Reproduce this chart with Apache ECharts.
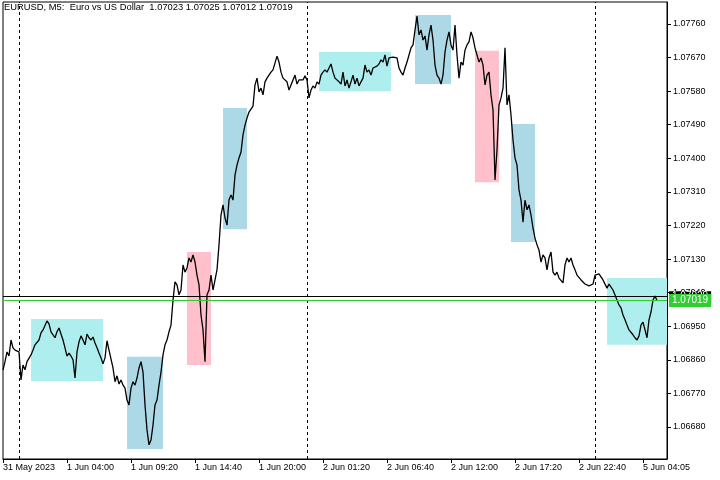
<!DOCTYPE html>
<html>
<head>
<meta charset="utf-8">
<script src="https://cdn.jsdelivr.net/npm/echarts@6/dist/echarts.min.js"></script>
<style>
html,body{margin:0;padding:0;background:#fff;}
#chart{width:720px;height:480px;}
</style>
</head>
<body>
<div id="chart"></div>
<script>
// ---- data ----
const titleText = 'EURUSD, M5:  Euro vs US Dollar  1.07023 1.07025 1.07012 1.07019';
const tickLabels = ['31 May 2023','1 Jun 04:00','1 Jun 09:20','1 Jun 14:40','1 Jun 20:00','2 Jun 01:20','2 Jun 06:40','2 Jun 12:00','2 Jun 17:20','2 Jun 22:40','5 Jun 04:05'];
const priceTicks = [1.0668,1.0677,1.0686,1.0695,1.0704,1.0713,1.0722,1.0731,1.0740,1.0749,1.0758,1.0767,1.0776];
// close prices, one per 10 minutes (2 M5 bars)
const closePrices = [
1.06833,1.06855,1.06881,1.06870,1.06913,1.06892,1.06886,1.06881,1.06881,1.06806,
1.06846,1.06833,1.06855,1.06860,1.06873,1.06886,1.06900,1.06897,1.06913,1.06932,
1.06940,1.06945,1.06964,1.06956,1.06935,1.06932,1.06919,1.06935,1.06945,1.06940,
1.06913,1.06892,1.06870,1.06878,1.06870,1.06860,1.06811,1.06881,1.06908,1.06924,
1.06913,1.06900,1.06929,1.06919,1.06913,1.06921,1.06905,1.06892,1.06878,1.06865,
1.06849,1.06865,1.06911,1.06886,1.06881,1.06838,1.06801,1.06817,1.06795,1.06806,
1.06792,1.06784,1.06752,1.06739,1.06784,1.06801,1.06792,1.06811,1.06838,1.06855,
1.06827,1.06739,1.06672,1.06632,1.06645,1.06685,1.06739,1.06752,1.06792,1.06827,
1.06873,1.06900,1.06913,1.06935,1.06953,1.07020,1.07069,1.07061,1.07034,1.07047,
1.07114,1.07095,1.07106,1.07133,1.07122,1.07141,1.07122,1.07087,1.07061,1.06980,
1.06940,1.06855,1.07034,1.07047,1.07087,1.07047,1.07052,1.07101,1.07168,1.07248,
1.07275,1.07240,1.07221,1.07288,1.07302,1.07288,1.07355,1.07382,1.07401,1.07417,
1.07463,1.07489,1.07508,1.07524,1.07519,1.07540,1.07597,1.07615,1.07578,1.07588,
1.07570,1.07605,1.07615,1.07623,1.07631,1.07637,1.07642,1.07674,1.07658,1.07631,
1.07615,1.07610,1.07605,1.07583,1.07578,1.07610,1.07623,1.07599,1.07610,1.07615,
1.07610,1.07621,1.07610,1.07562,1.07583,1.07594,1.07588,1.07605,1.07599,1.07623,
1.07631,1.07637,1.07631,1.07642,1.07653,1.07631,1.07615,1.07610,1.07605,1.07599,
1.07631,1.07594,1.07610,1.07588,1.07605,1.07623,1.07599,1.07615,1.07594,1.07605,
1.07615,1.07650,1.07631,1.07637,1.07623,1.07642,1.07637,1.07647,1.07653,1.07664,
1.07658,1.07677,1.07647,1.07669,1.07674,1.07671,1.07674,1.07669,1.07642,1.07631,
1.07623,1.07642,1.07658,1.07677,1.07696,1.07704,1.07744,1.07781,1.07731,1.07744,
1.07717,1.07728,1.07690,1.07731,1.07757,1.07717,1.07650,1.07623,1.07615,1.07599,
1.07623,1.07685,1.07717,1.07739,1.07704,1.07690,1.07757,1.07677,1.07615,1.07658,
1.07650,1.07690,1.07704,1.07712,1.07739,1.07723,1.07696,1.07677,1.07658,1.07669,
1.07650,1.07597,1.07623,1.07631,1.07570,1.07530,1.07342,1.07422,1.07543,1.07562,
1.07588,1.07696,1.07543,1.07570,1.07516,1.07449,1.07401,1.07382,1.07315,1.07288,
1.07229,1.07288,1.07262,1.07275,1.07248,1.07213,1.07186,1.07168,1.07154,1.07122,
1.07141,1.07133,1.07101,1.07133,1.07149,1.07095,1.07087,1.07095,1.07079,1.07074,
1.07066,1.07114,1.07133,1.07122,1.07133,1.07114,1.07101,1.07087,1.07082,1.07074,
1.07069,1.07063,1.07061,1.07058,1.07061,1.07063,1.07087,1.07087,1.07090,1.07085,
1.07074,1.07069,1.07052,1.07063,1.07061,1.07047,1.07042,1.07020,1.07007,1.06999,
1.06980,1.06967,1.06953,1.06940,1.06945,1.06927,1.06919,1.06913,1.06924,1.06953,
1.06961,1.06940,1.06919,1.06967,1.06988,1.07020,1.07031,1.07019
];
const slotCount = 333;
const labelEvery = 32;
const daySeparators = [8, 152, 296];
// rectangles (start slot, end slot, top price, bottom price, kind)
const boxStart  = [14, 62, 92, 110, 158, 206, 236, 254, 302];
const boxEnd    = [50, 80, 104, 122, 194, 224, 248, 266, 332];
const boxTop    = [1.06969, 1.06868, 1.07149, 1.07535, 1.07685, 1.07784, 1.07688, 1.07492, 1.07079];
const boxBottom = [1.06803, 1.06621, 1.06846, 1.07210, 1.07580, 1.07599, 1.07336, 1.07176, 1.06900];
const boxKind   = ['range','down','up','down','range','down','up','down','range'];
const bidPrice = 1.07019;
const linePrice = 1.07029;
const yMin = 1.06594, yMax = 1.07819;

// ---- chart ----
const kindColor = {range:'#AFEEEE', down:'#ADD8E6', up:'#FFC0CB'};
const categories = Array.from({length: slotCount}, (_, i) => String(i));
const font = '"Liberation Sans", Arial, sans-serif';

const areaData = boxStart.map((s, i) => [
  {xAxis: s, yAxis: boxTop[i], itemStyle: {color: kindColor[boxKind[i]], opacity: 1}},
  {xAxis: boxEnd[i], yAxis: boxBottom[i]}
]);

const priceLabel = (bg, pad) => ({
  show: true, position: 'end', distance: 2,
  formatter: p => Number(p.value).toFixed(5),
  color: '#fff', backgroundColor: bg, padding: pad, fontFamily: font, fontSize: 10
});

const chart = echarts.init(document.getElementById('chart'), null, {renderer: 'canvas'});
chart.setOption({
  animation: false,
  backgroundColor: '#ffffff',
  title: {
    text: titleText, left: 4, top: 3, padding: 0,
    textStyle: {fontFamily: font, fontSize: 9.4, fontWeight: 'normal', color: '#000'}
  },
  grid: {left: 2, right: 53, top: 2, bottom: 21, show: true, borderColor: '#000', borderWidth: 1, backgroundColor: 'transparent'},
  xAxis: {
    type: 'category', data: categories, boundaryGap: false,
    axisLine: {show: true, lineStyle: {color: '#000', width: 1}},
    axisTick: {show: true, interval: labelEvery - 1, length: 4, lineStyle: {color: '#000'}},
    axisLabel: {
      interval: labelEvery - 1, align: 'left', margin: 4,
      fontFamily: font, fontSize: 9, color: '#000',
      formatter: (v, idx) => tickLabels[Math.round(idx / labelEvery)] || ''
    },
    splitLine: {show: false}
  },
  yAxis: {
    type: 'value', position: 'right', min: yMin, max: yMax, scale: true,
    axisLine: {show: true, lineStyle: {color: '#000', width: 1}},
    axisTick: {show: true, length: 4, customValues: priceTicks, lineStyle: {color: '#000'}},
    axisLabel: {
      customValues: priceTicks, margin: 6, fontFamily: font, fontSize: 9, color: '#000',
      formatter: v => v.toFixed(5)
    },
    splitLine: {show: false}
  },
  series: [
    {
      type: 'line', name: 'boxes', data: [], z: 1, silent: true,
      markArea: {silent: true, data: areaData, label: {show: false}}
    },
    {
      type: 'line', name: 'separators', data: [], z: 2, silent: true,
      markLine: {
        silent: true, symbol: 'none', animation: false,
        label: {show: false},
        lineStyle: {color: '#000', type: [3, 3], width: 1},
        data: daySeparators.map(d => ({xAxis: d}))
      }
    },
    {
      type: 'line', name: 'EURUSD', data: closePrices, z: 3,
      showSymbol: false, symbol: 'none', smooth: false,
      lineStyle: {color: '#000', width: 1.3},
      itemStyle: {color: '#000'},
      markLine: {
        silent: true, symbol: 'none', animation: false, precision: 5,
        data: [
          {yAxis: linePrice, lineStyle: {color: '#000', type: 'solid', width: 1}, label: priceLabel('#000', [1, 3, 0, 3])},
          {yAxis: bidPrice, lineStyle: {color: '#2ecc2e', type: 'solid', width: 1}, label: priceLabel('#32cd32', [2, 3, 1, 3])}
        ]
      }
    }
  ]
});
</script>
</body>
</html>
